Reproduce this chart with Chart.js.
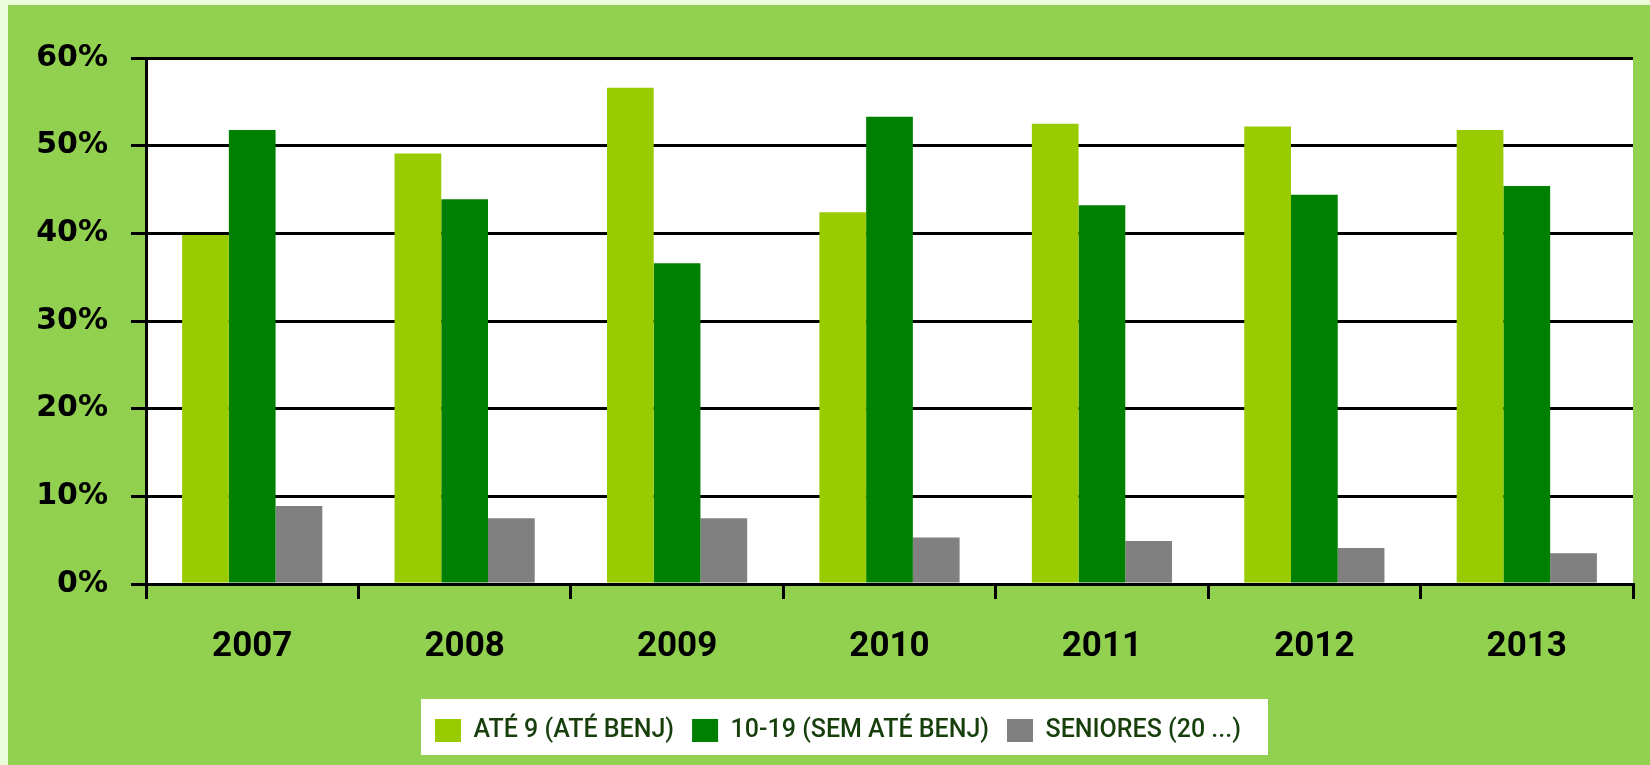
<!DOCTYPE html>
<html>
<head>
<meta charset="utf-8">
<script src="https://cdn.jsdelivr.net/npm/chart.js@4"></script>
<style>
  body { margin: 0; background: #eafcd9; }
  #box { position: absolute; left: 8px; top: 5px; width: 1642px; height: 760px; background: #92d050; }
  canvas { display: block; }
</style>
</head>
<body>
<div id="box"><canvas id="chart" width="1642" height="760"></canvas></div>
<script>
const years = ['2007', '2008', '2009', '2010', '2011', '2012', '2013'];
const ate9 = [39.8, 49.1, 56.6, 42.4, 52.5, 52.2, 51.8];
const de10a19 = [51.8, 43.9, 36.6, 53.3, 43.2, 44.4, 45.4];
const seniores = [8.9, 7.5, 7.5, 5.3, 4.9, 4.1, 3.5];
const seriesNames = ['ATÉ 9 (ATÉ BENJ)', '10-19 (SEM ATÉ BENJ)', 'SENIORES (20 ...)'];
const colors = ['#99cc00', '#008000', '#808080'];

// white plot area + white legend panel
const backdrop = {
    id: 'backdrop',
    afterLayout(chart) {
        const lg = chart.legend;
        const h = lg.bottom - lg.top;
        lg.left = 409;
        lg.right = 1642;
        lg.top = 695;
        lg.bottom = lg.top + h;
    },
    beforeDraw(chart) {
        const ctx = chart.ctx;
        const a = chart.chartArea;
        ctx.save();
        ctx.fillStyle = '#ffffff';
        ctx.fillRect(a.left, a.top, a.right - a.left, a.bottom - a.top);
        const hb = chart.legend.legendHitBoxes;
        if (hb && hb.length) {
            const last = hb[hb.length - 1];
            const cy = hb[0].top + hb[0].height / 2;
            const x0 = hb[0].left - 14;
            const x1 = Math.max(last.left + last.width + 16, x0 + 847);
            ctx.fillRect(x0, cy - 31.5, x1 - x0, 56);
        }
        ctx.restore();
    }
};

new Chart(document.querySelector('#chart'), {
    type: 'bar',
    data: {
        labels: years,
        datasets: [
            { label: seriesNames[0], data: ate9, backgroundColor: colors[0] },
            { label: seriesNames[1], data: de10a19, backgroundColor: colors[1] },
            { label: seriesNames[2], data: seniores, backgroundColor: colors[2] }
        ]
    },
    options: {
        responsive: false,
        animation: false,
        layout: { padding: { top: 53, right: 17, bottom: 0, left: 0 } },
        datasets: { bar: { categoryPercentage: 0.66, barPercentage: 1 } },
        scales: {
            x: {
                grid: { drawOnChartArea: false, color: '#000', lineWidth: 3, tickLength: 15 },
                border: { color: '#000', width: 3 },
                ticks: { color: '#000', padding: 27, font: { family: 'Roboto', weight: 'bold', size: 35 } },
                afterFit: s => { s.height = 128; }
            },
            y: {
                min: 0,
                max: 60,
                ticks: {
                    stepSize: 10,
                    color: '#000',
                    padding: 23,
                    font: { family: 'DejaVu Sans', weight: 'bold', size: 30 },
                    callback: v => v + '%'
                },
                grid: { color: '#000', lineWidth: 3, tickLength: 15 },
                border: { color: '#000', width: 3 },
                afterFit: s => { s.width = 138; }
            }
        },
        plugins: {
            tooltip: { enabled: false },
            legend: {
                position: 'bottom',
                align: 'start',
                labels: {
                    boxWidth: 26,
                    boxHeight: 23,
                    padding: 18,
                    color: '#173f0c',
                    font: { family: 'Roboto', size: 25, weight: '500' }
                }
            }
        }
    },
    plugins: [backdrop]
});
</script>
</body>
</html>
